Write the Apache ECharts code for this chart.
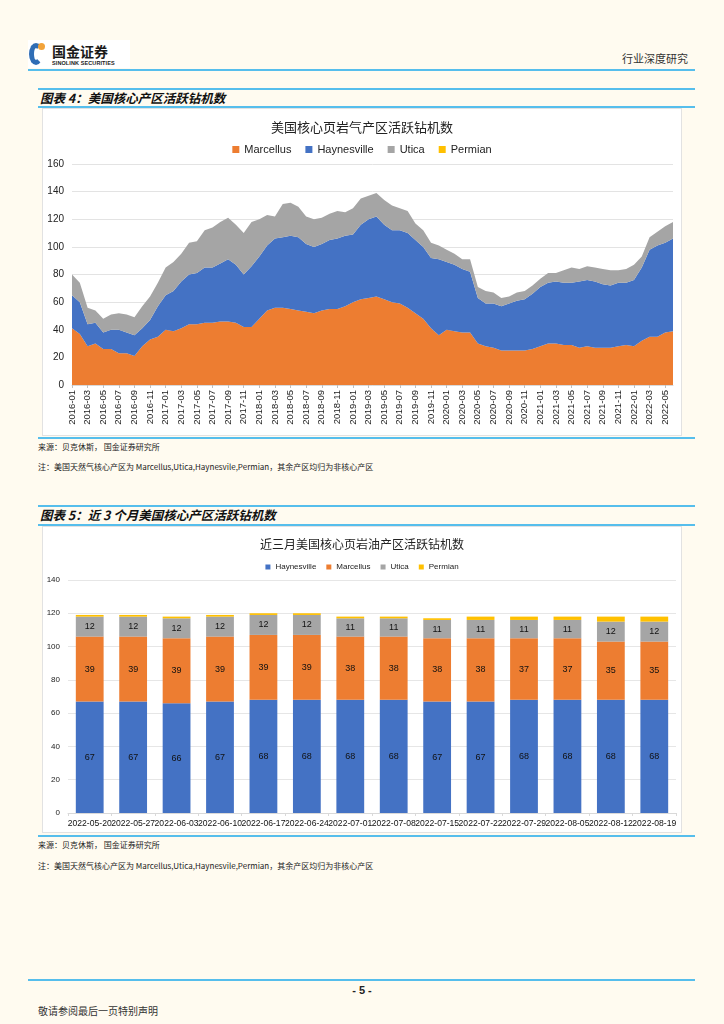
<!DOCTYPE html>
<html><head><meta charset="utf-8">
<script src="https://cdn.jsdelivr.net/npm/echarts@6/dist/echarts.min.js"></script>
<style>
html,body{margin:0;padding:0;background:#FFFBF0;width:724px;height:1024px;overflow:hidden;font-family:"Liberation Sans","Noto Sans CJK SC",sans-serif;}
.a{position:absolute;}
.line{position:absolute;background:#56BEEC;}
.txt{position:absolute;white-space:nowrap;color:#222;}
.box{position:absolute;background:#fff;border:1px solid #e2e2e2;box-sizing:border-box;}
</style></head><body>
<!-- header -->
<div class="a" style="left:28px;top:40px;width:102px;height:28px;background:#fff;"></div>
<div class="a" style="left:29px;top:43px;width:14px;height:22px;border:5px solid #2F6DB5;border-right-color:transparent;border-radius:50%;box-sizing:border-box;"></div>
<div class="a" style="left:38px;top:43px;width:7px;height:7px;background:#F2A33A;border-radius:50%;"></div>
<div class="txt" style="left:52px;top:43px;font-size:14px;font-weight:bold;color:#1a1a1a;font-family:'Noto Sans CJK SC';line-height:16px;">国金证券</div>
<div class="txt" style="left:52px;top:60px;font-size:5.5px;font-weight:bold;color:#1a1a1a;line-height:7px;letter-spacing:0.1px;">SINOLINK SECURITIES</div>
<div class="txt" style="right:36px;top:51px;font-size:11px;line-height:14px;color:#333;font-family:'Noto Sans CJK SC';">行业深度研究</div>
<div class="line" style="left:28px;top:69px;width:667px;height:2px;"></div>

<!-- figure 4 -->
<div class="line" style="left:38px;top:88px;width:657px;height:1.5px;"></div>
<div class="txt" style="left:40px;top:90px;font-size:12.5px;line-height:15px;font-weight:bold;font-style:italic;font-family:'Noto Sans CJK SC';color:#111;">图表 4：美国核心产区活跃钻机数</div>
<div class="line" style="left:38px;top:106px;width:657px;height:1.5px;"></div>
<div class="box" style="left:42px;top:108px;width:640px;height:328px;"></div>
<div id="c1" class="a" style="left:42px;top:108px;width:640px;height:328px;"></div>
<div class="line" style="left:38px;top:437px;width:657px;height:1.5px;"></div>
<div class="txt" style="left:38px;top:442px;font-size:8px;line-height:10px;font-family:'Noto Sans CJK SC';">来源：贝克休斯， 国金证券研究所</div>
<div class="txt" style="left:38px;top:462px;font-size:8px;line-height:10px;font-family:'Noto Sans CJK SC';">注：美国天然气核心产区为 Marcellus,Utica,Haynesvile,Permian，其余产区均归为非核心产区</div>

<!-- figure 5 -->
<div class="line" style="left:38px;top:505px;width:657px;height:1.5px;"></div>
<div class="txt" style="left:40px;top:507px;font-size:12.5px;line-height:15px;font-weight:bold;font-style:italic;font-family:'Noto Sans CJK SC';color:#111;">图表 5：近 3 个月美国核心产区活跃钻机数</div>
<div class="line" style="left:38px;top:524px;width:657px;height:1.5px;"></div>
<div class="box" style="left:42px;top:526px;width:640px;height:307px;"></div>
<div id="c2" class="a" style="left:42px;top:526px;width:640px;height:307px;"></div>
<div class="line" style="left:38px;top:835px;width:657px;height:1.5px;"></div>
<div class="txt" style="left:38px;top:840px;font-size:8px;line-height:10px;font-family:'Noto Sans CJK SC';">来源：贝克休斯， 国金证券研究所</div>
<div class="txt" style="left:38px;top:861px;font-size:8px;line-height:10px;font-family:'Noto Sans CJK SC';">注：美国天然气核心产区为 Marcellus,Utica,Haynesvile,Permian，其余产区均归为非核心产区</div>

<!-- footer -->
<div class="line" style="left:28px;top:979px;width:667px;height:2px;"></div>
<div class="txt" style="left:342px;top:984px;width:40px;text-align:center;font-size:11px;line-height:13px;font-weight:bold;">- 5 -</div>
<div class="txt" style="left:38px;top:1004px;font-size:10px;line-height:13px;font-family:'Noto Sans CJK SC';color:#333;">敬请参阅最后一页特别声明</div>

<script>
// ---------- Figure 4 data (monthly, 2016-01 .. 2022-06) ----------
var months = [];
for (var y = 2016; y <= 2022; y++) {
  for (var m = 1; m <= 12; m++) {
    if (y === 2022 && m > 6) break;
    months.push(y + '-' + (m < 10 ? '0' + m : m));
  }
}
var marcellus = [41,37,28,30,26,26,23,23,21,28,33,35, 40,39,41,44,44,45,45,46,46,45,42,42,
                 48,54,56,56,55,54,53,52,54,55,55,57, 60,62,63,64,62,60,59,56,52,48,41,36,
                 40,39,38,38,30,28,27,25,25,25,25,26, 28,30,30,29,29,27,28,27,27,27,28,29,
                 28,32,35,35,38,39];
var haynesville = [24,23,16,15,12,14,17,15,15,13,14,22, 25,29,34,36,37,40,40,42,45,42,38,44,
                   45,47,50,51,53,53,49,48,48,50,51,51, 49,54,57,58,54,52,53,54,53,52,51,55,
                   49,48,46,44,33,31,32,32,34,36,37,40, 43,44,45,45,45,48,48,48,46,45,46,45,
                   48,53,63,66,65,67];
var utica = [15,14,12,9,10,11,12,13,13,16,17,17, 20,21,20,23,23,27,29,30,30,29,30,32,
             27,22,16,24,24,22,20,20,19,19,20,17, 19,19,17,17,18,18,16,16,12,12,11,10,
             9,8,7,9,8,9,8,6,5,6,6,6, 6,7,6,9,11,9,10,10,11,11,9,10,
             11,8,9,10,12,12];
var permianGas = [0,0,0,0,0,0,0,0,0,0,0,0, 0,0,0,0,0,0,0,0,0,0,0,0,
                  0,0,0,0,0,0,0,0,0,0,0,0, 0,0,0,0,0,0,0,0,0,0,0,0,
                  0,0,0,0,0,0,0,0,0,0,0,0, 0,0,0,0,0,0,0,0,0,0,0,0,
                  0,0,0,0,0,0];
var yTicks1 = [0,20,40,60,80,100,120,140,160];

// ---------- Figure 5 data (weekly) ----------
var weeks = ['2022-05-20','2022-05-27','2022-06-03','2022-06-10','2022-06-17','2022-06-24','2022-07-01',
             '2022-07-08','2022-07-15','2022-07-22','2022-07-29','2022-08-05','2022-08-12','2022-08-19'];
var wHaynesville = [67,67,66,67,68,68,68,68,67,67,68,68,68,68];
var wMarcellus   = [39,39,39,39,39,39,38,38,38,38,37,37,35,35];
var wUtica       = [12,12,12,12,12,12,11,11,11,11,11,11,12,12];
var wPermian     = [1,1,1,1,1,1,1,1,1,2,2,2,3,3];

var C = {orange:'#ED7D31', blue:'#4472C4', grey:'#A5A5A5', yellow:'#FFC000'};
var cjk = "'Noto Sans CJK SC'";
var lat = "'Liberation Sans'";

function area(name, data, color) {
  return {name:name, type:'line', stack:'total', data:data, symbol:'none', showSymbol:false,
          lineStyle:{width:0}, areaStyle:{color:color, opacity:1}, itemStyle:{color:color}, silent:true};
}

var c1 = echarts.init(document.getElementById('c1'), null, {renderer:'canvas'});
c1.setOption({
  animation:false,
  title:{text:'美国核心页岩气产区活跃钻机数', left:'center', top:8,
         textStyle:{fontSize:13, fontWeight:'normal', color:'#222', fontFamily:cjk}},
  legend:{top:31, left:'center', icon:'rect', itemWidth:7, itemHeight:7, itemGap:14,
          textStyle:{fontSize:11, color:'#222', fontFamily:lat},
          data:['Marcellus','Haynesville','Utica','Permian']},
  grid:{left:30, right:9, top:56, bottom:51},
  xAxis:{type:'category', data:months, boundaryGap:false,
         axisLine:{lineStyle:{color:'#d9d9d9'}},
         axisTick:{show:true, interval:1, length:3, lineStyle:{color:'#bfbfbf'}},
         axisLabel:{rotate:90, interval:1, fontSize:9.5, color:'#222', fontFamily:lat, margin:5}},
  yAxis:{type:'value', min:yTicks1[0], max:yTicks1[yTicks1.length-1], interval:20,
         axisLine:{show:false}, axisTick:{show:false},
         splitLine:{lineStyle:{color:'#e3e3e3'}},
         axisLabel:{fontSize:10, color:'#222', fontFamily:lat, margin:8}},
  series:[area('Marcellus', marcellus, C.orange), area('Haynesville', haynesville, C.blue),
          area('Utica', utica, C.grey), area('Permian', permianGas, C.yellow)]
});

function bar(name, data, color, lbl) {
  return {name:name, type:'bar', stack:'s', data:data, barWidth:'64%',
          itemStyle:{color:color},
          label:{show:lbl, position:'inside', fontSize:9, color:'#111', fontFamily:lat}};
}
var c2 = echarts.init(document.getElementById('c2'), null, {renderer:'canvas'});
c2.setOption({
  animation:false,
  title:{text:'近三月美国核心页岩油产区活跃钻机数', left:'center', top:7,
         textStyle:{fontSize:12, fontWeight:'normal', color:'#222', fontFamily:cjk}},
  legend:{top:32, left:'center', icon:'rect', itemWidth:5, itemHeight:5, itemGap:10,
          textStyle:{fontSize:8, color:'#222', fontFamily:lat},
          data:['Haynesville','Marcellus','Utica','Permian']},
  grid:{left:26, right:6, top:54, bottom:20},
  xAxis:{type:'category', data:weeks,
         axisLine:{lineStyle:{color:'#d9d9d9'}},
         axisTick:{show:true, length:3, lineStyle:{color:'#d9d9d9'}},
         axisLabel:{interval:0, fontSize:8.6, color:'#111', fontFamily:lat, margin:6}},
  yAxis:{type:'value', min:0, max:140, interval:20,
         axisLine:{show:false}, axisTick:{show:false},
         splitLine:{lineStyle:{color:'#e6e6e6'}},
         axisLabel:{fontSize:8, color:'#222', fontFamily:lat, margin:8}},
  series:[bar('Haynesville', wHaynesville, C.blue, true), bar('Marcellus', wMarcellus, C.orange, true),
          bar('Utica', wUtica, C.grey, true), bar('Permian', wPermian, C.yellow, false)]
});
</script>
</body></html>
